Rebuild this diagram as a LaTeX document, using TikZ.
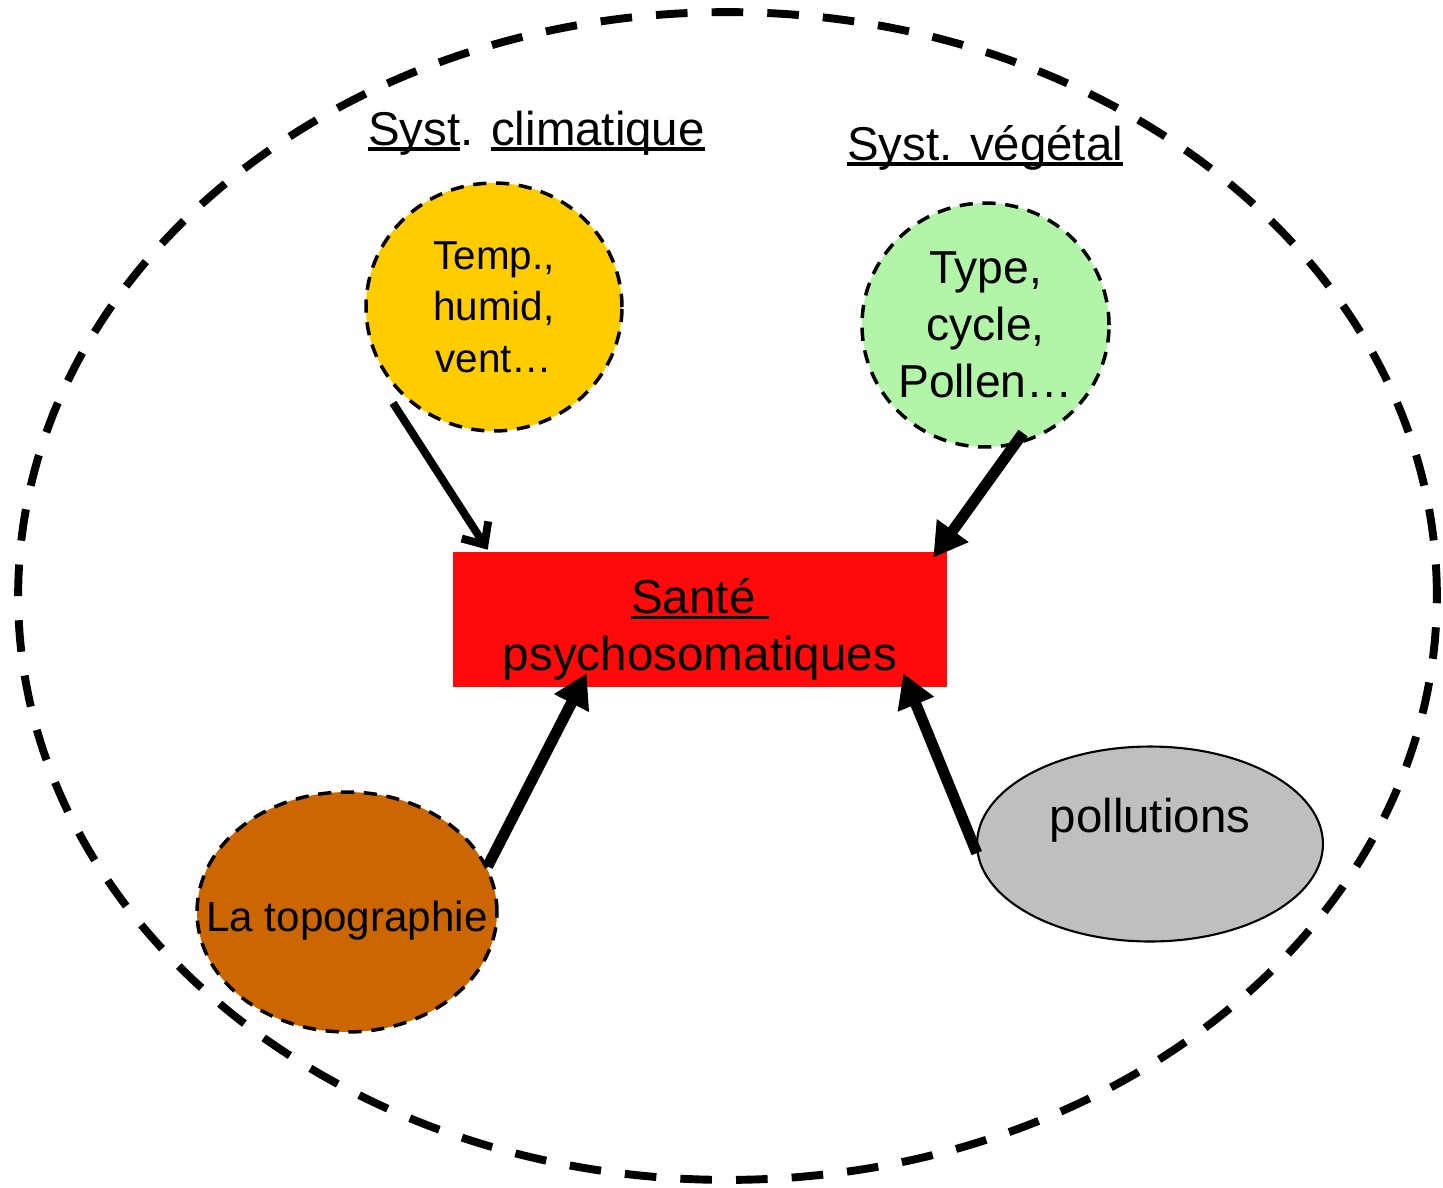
\documentclass[tikz,border=0pt]{standalone}
\usepackage{fontspec}
\setmainfont{Liberation Sans}
\usetikzlibrary{shapes.geometric,arrows.meta,calc}
\definecolor{jaune}{HTML}{FFCC00}
\definecolor{vert}{HTML}{B3F5A8}
\definecolor{brun}{HTML}{CC6600}
\definecolor{gris}{HTML}{BFBFBF}
\definecolor{rouge}{HTML}{FF0A0A}
\newcommand{\souligne}[1]{\setbox0\hbox{#1}\rlap{\rule[-0.12em]{\wd0}{0.07em}}\box0}
\tikzset{
	bulle/.style={ellipse, draw, dash pattern=on 7.5pt off 5.5pt, line width=2pt, inner sep=0pt, align=center},
	fleche/.style={line width=6.3pt, -{Triangle[length=19pt,width=21pt]}},
	titre/.style={anchor=base, inner sep=0pt, font=\fontsize{27}{32}\selectfont}
}

\begin{document}
\begin{tikzpicture}[x=0.02cm, y=-0.02cm, line join=round]
	\useasboundingbox (0,0) rectangle (1443,1187);
	\node[ellipse, draw, line width=4.5pt, dash pattern=on 18pt off 13.7pt, minimum width=28.38cm, minimum height=23.36cm] (cadre) at (727.5,596) {};
	
	\node[titre] (climat) at (536.5,145) {\souligne{Syst}. \souligne{climatique}};
	\node[titre] (vegetal) at (985,160) {\souligne{Syst. végétal}};
	
	\node[bulle, fill=jaune, minimum width=5.12cm, minimum height=4.96cm, font=\fontsize{23}{29.2}\selectfont] (meteo) at (494,307) {Temp.,\\humid,\\vent…};
	\node[bulle, fill=vert, minimum width=4.82cm, minimum height=4.88cm, font=\fontsize{26.3}{32.4}\selectfont] (plantes) at (985.5,325) {Type,\\cycle,\\Pollen…};
	\node[fill=rouge, inner sep=0pt, minimum width=9.88cm, minimum height=2.7cm, align=center, font=\fontsize{27.1}{32.4}\selectfont] (sante) at (700,619.5) {\rule{0pt}{1.15em}\souligne{Santé\ }\\psychosomatiques};
	\node[bulle, fill=brun, minimum width=6cm, minimum height=4.8cm, label={[font=\fontsize{24}{29}\selectfont, yshift=-5pt]center:La topographie}] (relief) at (347,912) {};
	\node[ellipse, draw, line width=1.2pt, fill=gris, minimum width=6.92cm, minimum height=3.9cm, inner sep=0pt, align=center, font=\fontsize{27}{32.4}\selectfont] (pollu) at (1150,844) {pollutions\\~};
	
	\draw[line width=4.5pt, -{Straight Barb[length=10pt,width=18pt]}] ($(meteo.center)+(-101,96)$) -- ($(sante.north west)+(35,-2)$);
	\draw[fleche] ($(plantes.center)+(37.5,108)$) -- ($(sante.north east)+(-14,6)$);
	\draw[fleche] (relief.18) -- ($(sante.south west)+(134,-14)$);
	\draw[fleche] (pollu.183) -- ($(sante.south east)+(-44,-14)$);
\end{tikzpicture}
\end{document}
